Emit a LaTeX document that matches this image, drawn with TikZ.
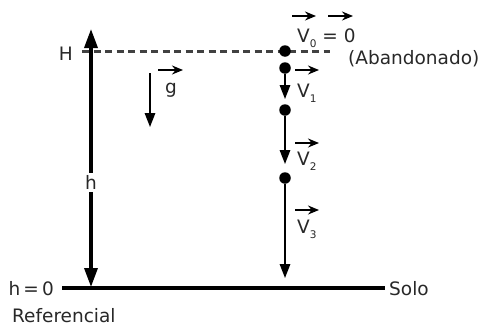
\documentclass[tikz,border=0pt]{standalone}
\usepackage{fontspec}
\setmainfont{DejaVu Sans}
\usetikzlibrary{arrows.meta}
\definecolor{txtgray}{RGB}{40,40,40}
\definecolor{dashgray}{RGB}{65,65,65}
\newcommand{\sbs}[1]{\raisebox{-5pt}{\fontsize{10.5}{10.5}\selectfont #1}}

\tikzset{
  lbl/.style={text=txtgray,font=\fontsize{18.5}{21}\selectfont,inner sep=0pt},
  dot/.style={circle,fill=black,inner sep=0pt,minimum size=11.5pt},
  fall/.style={line width=1.6pt,-{Triangle[length=14pt,width=10.5pt]}},
  vec/.style={line width=1.6pt,-{Stealth[length=11pt,width=9pt]}},
  bigarrow/.style={line width=3.4pt,{Triangle[length=19pt,width=13pt]}-{Triangle[length=19pt,width=13pt]}}
}

\begin{document}
\begin{tikzpicture}[x=1pt,y=-1pt]
    \useasboundingbox (0,0) rectangle (482,327);

    % ground and reference height
    \coordinate (gl) at (62,288);
    \coordinate (gr) at (385,288);
    \draw[line width=3.2pt] (gl) -- (gr);
    \node[lbl,anchor=base east] (hzero) at (54,295) {h\,=\,0};
    \node[lbl,anchor=base west] (solo) at (389,295) {Solo};
    \node[lbl,anchor=base west] (refer) at (12,322) {Referencial};

    % top height
    \coordinate (dl) at (82,51);
    \coordinate (dr) at (330,51);
    \draw[dashgray,line width=3pt,dash pattern=on 7pt off 4.5pt] (dl) -- (dr);
    \node[lbl,anchor=base east] (htop) at (73,60) {H};

    % height arrow
    \coordinate (hup) at (91,29);
    \coordinate (hdown) at (91,287);
    \draw[bigarrow] (hdown) -- node[lbl,pos=0.405,fill=white,inner sep=2pt] (hlab) {h} (hup);

    % gravity
    \coordinate (ga) at (150,73);
    \coordinate (gb) at (150,127);
    \draw[fall] (ga) -- (gb);
    \node[lbl,anchor=base west] (glab) at (165,93) {g};
    \draw[vec] ([xshift=-7pt,yshift=23pt]glab.base west) -- ++(25,0);

    % falling body
    \node[dot] (p0) at (285,51) {};
    \node[dot] (p1) at (285,68) {};
    \node[dot] (p2) at (285,110) {};
    \node[dot] (p3) at (285,178) {};
    \coordinate (a1) at (285,99);
    \coordinate (a2) at (285,164);
    \coordinate (a3) at (285,278);
    \draw[fall] (p1) -- (a1);
    \draw[fall] (p2) -- (a2);
    \draw[fall] (p3) -- (a3);

    % speeds
    \node[lbl,anchor=base west] (v0) at (297,42) {V\sbs{0} = 0};
    \draw[vec] ([xshift=-5pt,yshift=26pt]v0.base west) -- ++(24,0);
    \draw[vec] ([xshift=31pt,yshift=26pt]v0.base west) -- ++(25,0);
    \node[lbl,anchor=base west] (aband) at (348,64) {(Abandonado)};

    \node[lbl,anchor=base west] (v1) at (297,97) {V\sbs{1}};
    \draw[vec] ([xshift=-2pt,yshift=27pt]v1.base west) -- ++(24,0);
    \node[lbl,anchor=base west] (v2) at (297,165) {V\sbs{2}};
    \draw[vec] ([xshift=-2pt,yshift=22pt]v2.base west) -- ++(24,0);
    \node[lbl,anchor=base west] (v3) at (297,233) {V\sbs{3}};
    \draw[vec] ([xshift=-2pt,yshift=23pt]v3.base west) -- ++(24,0);
\end{tikzpicture}
\end{document}
